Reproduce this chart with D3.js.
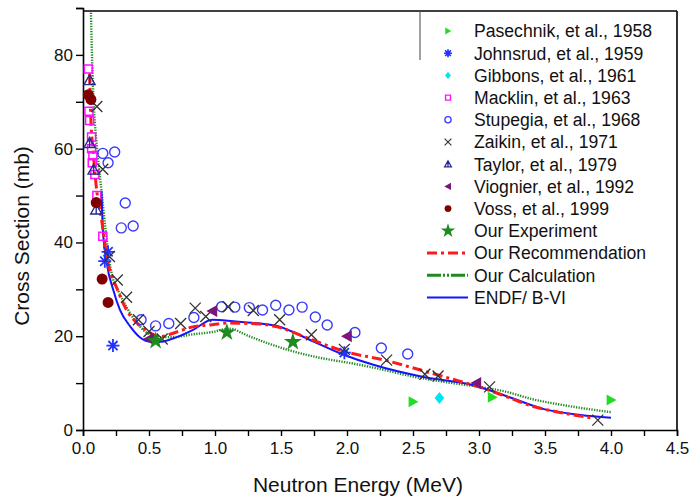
<!DOCTYPE html>
<html>
<head>
<meta charset="utf-8">
<script src="https://cdn.jsdelivr.net/npm/d3@7"></script>
<style>
  html, body { margin: 0; padding: 0; background: #fff; }
  svg { display: block; font-family: Arial, "Liberation Sans", sans-serif; }
</style>
</head>
<body>
<svg id="chart" width="692" height="502"></svg>
<script>
// Measured cross sections, [energy MeV, sigma mb]
const pasechnik = [[2.5, 6.0], [3.1, 7.0], [4.0, 6.4]];
const johnsrud  = [[0.165, 36], [0.19, 38], [0.227, 18], [1.98, 16.5]];
const gibbons   = [[2.7, 6.8]];
const macklin   = [[0.04, 77], [0.045, 68], [0.05, 66], [0.065, 62.5], [0.065, 60], [0.075, 58.5],
                   [0.07, 57], [0.09, 54.5], [0.105, 50], [0.15, 41.3]];
const stupegia  = [[0.15, 59], [0.19, 57], [0.24, 59.3], [0.29, 43.1], [0.32, 48.4], [0.38, 43.5],
                   [0.44, 23.5], [0.55, 22.2], [0.65, 22.7], [0.84, 24], [1.05, 26.3], [1.15, 26.2],
                   [1.26, 26.1], [1.36, 25.6], [1.46, 26.6], [1.56, 25.6], [1.66, 26.2], [1.76, 24.1],
                   [1.85, 22.4], [2.06, 20.8], [2.26, 17.5], [2.46, 16.2]];
const zaikin    = [[0.105, 69], [0.15, 55.6], [0.2, 37], [0.26, 32], [0.33, 28.3], [0.42, 23.5],
                   [0.5, 21], [0.6, 19.4], [0.74, 22.7], [0.85, 26], [0.93, 24.2], [1.1, 26.3],
                   [1.29, 25.5], [1.49, 23.5], [1.73, 20.3], [1.98, 17.2], [2.3, 14.9], [2.59, 11.9],
                   [2.69, 11.5], [3.08, 9.2], [3.9, 2.1]];
const taylor    = [[0.05, 74.6], [0.05, 61.2], [0.08, 55.5], [0.1, 47]];
const viognier  = [[0.5, 19.4], [0.98, 25.4], [2.0, 20], [2.98, 10]];
const voss      = [[0.04, 71.5], [0.06, 70.5], [0.1, 48.5], [0.145, 32.2], [0.19, 27.2]];
const ourExp    = [[0.55, 19], [1.09, 20.8], [1.59, 18.8]];

// Evaluated curves
const recommendation = [[0.05, 76], [0.06, 66], [0.075, 60], [0.1, 52], [0.14, 45], [0.18, 37],
  [0.26, 30], [0.33, 25.6], [0.41, 22.8], [0.51, 20.7], [0.58, 19.9], [0.71, 20.9], [0.83, 22],
  [0.96, 22.4], [1.09, 22.8], [1.34, 22.6], [1.47, 22], [1.72, 19.4], [2.0, 16.6], [2.27, 15],
  [2.58, 12.6], [2.78, 11], [3.0, 9.2], [3.2, 7.2], [3.39, 5.2], [3.64, 3.6], [3.87, 2.5]];
const calculation = [[0.06, 89], [0.07, 78], [0.08, 70], [0.09, 65.5], [0.11, 59], [0.14, 51],
  [0.17, 43], [0.2, 36], [0.23, 32], [0.27, 29.5], [0.33, 26.2], [0.41, 22.8], [0.48, 20.8],
  [0.58, 19.8], [0.68, 19.8], [0.83, 20.4], [0.98, 20.9], [1.1, 21.6], [1.14, 21.5], [1.21, 20.6],
  [1.39, 18.6], [1.64, 16.4], [1.89, 14.9], [2.0, 14.4], [2.25, 13], [2.5, 11.4], [2.75, 10.2],
  [3.0, 9.2], [3.2, 8.2], [3.4, 6.6], [3.64, 5.3], [4.0, 3.8]];
const endf = [[0.14, 51], [0.15, 43], [0.18, 35.6], [0.23, 29.8], [0.28, 25.6], [0.36, 22],
  [0.43, 19.8], [0.52, 18.8], [0.58, 18.8], [0.71, 19.8], [0.83, 21.3], [0.98, 23.5], [1.14, 23.2],
  [1.34, 22.7], [1.47, 22.2], [1.72, 19.2], [1.98, 16], [2.2, 13.9], [2.58, 11.3], [2.95, 9.6],
  [3.23, 7], [3.5, 4.4], [3.77, 3.2], [4.0, 2.6]];

const xTicks = [0, 0.5, 1, 1.5, 2, 2.5, 3, 3.5, 4, 4.5];
const yTicks = [0, 20, 40, 60, 80];

const legendLabels = ["Pasechnik, et al., 1958", "Johnsrud, et al., 1959", "Gibbons, et al., 1961",
  "Macklin, et al., 1963", "Stupegia, et al., 1968", "Zaikin, et al., 1971", "Taylor, et al., 1979",
  "Viognier, et al., 1992", "Voss, et al., 1999", "Our Experiment", "Our Recommendation",
  "Our Calculation", "ENDF/ B-VI"];

const svg = d3.select("#chart");
const mLeft = 83, mRight = 677, mBottom = 430, mTop = 8, frameTop = 11;

const x = d3.scaleLinear().domain([0, 4.5]).range([mLeft, mRight]);
const y = d3.scaleLinear().domain([0, 90]).range([mBottom, mTop]);

// Frame
svg.append("line").attr("x1", mLeft).attr("x2", mRight).attr("y1", frameTop).attr("y2", frameTop)
  .attr("stroke", "#000").attr("stroke-width", 1.6);
svg.append("line").attr("x1", mRight).attr("x2", mRight).attr("y1", frameTop).attr("y2", mBottom)
  .attr("stroke", "#000").attr("stroke-width", 1.6);

// Axes
const xAxis = d3.axisBottom(x).tickValues(d3.range(0, 4.51, 0.25)).tickSize(6)
  .tickFormat(d => xTicks.some(t => Math.abs(t - d) < 1e-9) ? d3.format(".1f")(d) : "");
const gx = svg.append("g").attr("transform", `translate(0,${mBottom})`).call(xAxis);
gx.selectAll("text").attr("font-size", 17).attr("dy", "0.9em").attr("fill", "#111");

const yAxis = d3.axisLeft(y).tickValues(d3.range(0, 90.1, 10)).tickSize(7)
  .tickFormat(d => yTicks.includes(d) ? d : "");
const gy = svg.append("g").attr("transform", `translate(${mLeft},0)`).call(yAxis);
gy.selectAll("text").attr("font-size", 17).attr("fill", "#111").attr("x", -10);
[gx, gy].forEach(g => {
  g.select(".domain").attr("stroke-width", 1.6);
  g.selectAll(".tick line").attr("stroke-width", 1.4);
  g.attr("font-family", null);
});

svg.append("text").attr("x", 358).attr("y", 492).attr("text-anchor", "middle")
  .attr("font-size", 21).attr("fill", "#111").text("Neutron Energy (MeV)");
svg.append("text").attr("transform", "translate(29,236) rotate(-90)").attr("text-anchor", "middle")
  .attr("font-size", 21).attr("fill", "#111").text("Cross Section (mb)");

// Curves
const line = d3.line().x(d => x(d[0])).y(d => y(d[1])).curve(d3.curveMonotoneX);
const plot = svg.append("g");
plot.append("path").datum(calculation).attr("d", line).attr("fill", "none")
  .attr("stroke", "#1f8a1f").attr("stroke-width", 2.4).attr("stroke-dasharray", "1.3,1.3");
plot.append("path").datum(endf).attr("d", line).attr("fill", "none")
  .attr("stroke", "#1414ff").attr("stroke-width", 2);
plot.append("path").datum(recommendation).attr("d", line).attr("fill", "none")
  .attr("stroke", "#ff1a1a").attr("stroke-width", 3).attr("stroke-dasharray", "10,4,3,4");

// Marker shapes, drawn around the origin at scale s
const shapes = {
  rtri: s => `M${-0.8*s},${-s}L${s},0L${-0.8*s},${s}Z`,
  ltri: s => `M${0.8*s},${-s}L${-s},0L${0.8*s},${s}Z`,
  diamond: s => `M0,${-s}L${0.8*s},0L0,${s}L${-0.8*s},0Z`,
  square: s => `M${-s},${-s}H${s}V${s}H${-s}Z`,
  circle: s => `M${s},0A${s},${s} 0 1,1 ${-s},0A${s},${s} 0 1,1 ${s},0Z`,
  xmark: s => `M${-s},${-s}L${s},${s}M${-s},${s}L${s},${-s}`,
  aster: s => { const a = s * 0.7071; return `M${-s},0H${s}M0,${-s}V${s}M${-a},${-a}L${a},${a}M${-a},${a}L${a},${-a}`; },
  tri: s => `M0,${-s}L${s},${s*0.8}L${-s},${s*0.8}ZM0,${-s}V${s*0.8}`,
  star: s => d3.symbol(d3.symbolStar, s * s * 3.2)()
};

const series = [
  { data: pasechnik, shape: "rtri",   size: 5.5, fill: "#22dd22", stroke: "none" },
  { data: johnsrud,  shape: "aster",  size: 6.5, fill: "none", stroke: "#2233ff", sw: 1.8 },
  { data: gibbons,   shape: "diamond",size: 6,   fill: "#00e5f5", stroke: "none" },
  { data: macklin,   shape: "square", size: 4,   fill: "none", stroke: "#ff10ff", sw: 1.5 },
  { data: stupegia,  shape: "circle", size: 5,   fill: "none", stroke: "#3a3aff", sw: 1.4 },
  { data: zaikin,    shape: "xmark",  size: 5.5, fill: "none", stroke: "#333", sw: 1.3 },
  { data: taylor,    shape: "tri",    size: 5.5, fill: "none", stroke: "#2a2a90", sw: 1.4 },
  { data: viognier,  shape: "ltri",   size: 6,   fill: "#7a157a", stroke: "none" },
  { data: voss,      shape: "circle", size: 5.5, fill: "#800000", stroke: "none" },
  { data: ourExp,    shape: "star",   size: 5.6, fill: "#1f8a1f", stroke: "none" }
];

series.forEach(s => {
  plot.append("g").selectAll("path").data(s.data).join("path")
    .attr("transform", d => `translate(${x(d[0])},${y(d[1])})`)
    .attr("d", shapes[s.shape](s.size))
    .attr("fill", s.fill).attr("stroke", s.stroke).attr("stroke-width", s.sw || 0);
});

// Legend
const legend = svg.append("g");
legend.append("line").attr("x1", 420).attr("x2", 420).attr("y1", frameTop).attr("y2", 60)
  .attr("stroke", "#555").attr("stroke-width", 1.1);
const rowY = i => 31 + i * 22.2;
series.forEach((s, i) => {
  legend.append("path").attr("transform", `translate(448,${rowY(i)})`)
    .attr("d", shapes[s.shape](s.size * (s.shape === "star" ? 0.8 : 0.62)))
    .attr("fill", s.fill).attr("stroke", s.stroke).attr("stroke-width", (s.sw || 0) * 0.9);
});
const lineStyles = [
  { stroke: "#ff1a1a", w: 3, dash: "10,4,3,4" },
  { stroke: "#1f8a1f", w: 3, dash: "14,2,2,2,2,2" },
  { stroke: "#1414ff", w: 2, dash: null }
];
lineStyles.forEach((l, j) => {
  const yy = rowY(10 + j);
  legend.append("line").attr("x1", 427).attr("x2", 468).attr("y1", yy).attr("y2", yy)
    .attr("stroke", l.stroke).attr("stroke-width", l.w).attr("stroke-dasharray", l.dash);
});
legend.selectAll("text.lab").data(legendLabels).join("text").attr("class", "lab")
  .attr("x", 474).attr("y", (d, i) => rowY(i)).attr("dy", "0.36em")
  .attr("font-size", 17.6).attr("fill", "#111").text(d => d);
</script>
</body>
</html>
